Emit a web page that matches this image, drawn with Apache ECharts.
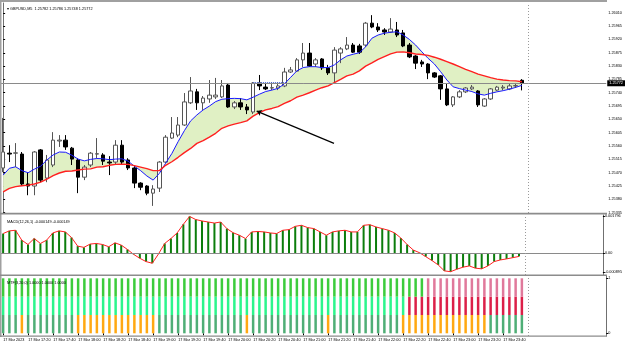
<!DOCTYPE html>
<html><head><meta charset="utf-8">
<script src="https://cdn.jsdelivr.net/npm/echarts@6/dist/echarts.min.js"></script>
<style>html,body{margin:0;padding:0;background:#fff}#c{width:625px;height:345px}</style>
</head><body><div id="c"></div>
<script>
const headerText = 'GBPUSD,M5  1.25782 1.25786 1.25748 1.25772';
const macdText = 'MACD(12,26,1) -0.000149 -0.000149';
const mtfText = 'MTF(3,20,0) 1.0000 1.0000 1.0000';
const timeLabels = ['17 Mar 2023','17 Mar 17:20','17 Mar 17:40','17 Mar 18:00','17 Mar 18:20','17 Mar 18:40','17 Mar 19:00','17 Mar 19:20','17 Mar 19:40','17 Mar 20:00','17 Mar 20:20','17 Mar 20:40','17 Mar 21:00','17 Mar 21:20','17 Mar 21:40','17 Mar 22:00','17 Mar 22:20','17 Mar 22:40','17 Mar 23:00','17 Mar 23:20','17 Mar 23:40'];
const opens = [1.25486,1.25536,1.25536,1.25533,1.25432,1.25425,1.25547,1.25452,1.25496,1.25577,1.25580,1.25553,1.25513,1.25455,1.25496,1.25533,1.25530,1.25506,1.25506,1.25563,1.25513,1.25486,1.25435,1.25425,1.25401,1.25418,1.25506,1.25587,1.25597,1.25631,1.25706,1.25743,1.25706,1.25719,1.25726,1.25726,1.25766,1.25692,1.25706,1.25692,1.25675,1.25773,1.25759,1.25756,1.25756,1.25763,1.25810,1.25813,1.25851,1.25874,1.25837,1.25854,1.25824,1.25807,1.25874,1.25888,1.25901,1.25898,1.25901,1.25975,1.25962,1.25952,1.25945,1.25952,1.25942,1.25901,1.25864,1.25844,1.25837,1.25807,1.25797,1.25753,1.25699,1.25726,1.25743,1.25753,1.25746,1.25695,1.25719,1.25749,1.25756,1.25753,1.25763,1.25782];
const highs = [1.25655,1.25563,1.25570,1.25540,1.25472,1.25543,1.25550,1.25530,1.25607,1.25597,1.25597,1.25557,1.25519,1.25496,1.25540,1.25587,1.25536,1.25526,1.25580,1.25580,1.25519,1.25496,1.25438,1.25428,1.25428,1.25509,1.25597,1.25658,1.25658,1.25739,1.25793,1.25753,1.25729,1.25783,1.25790,1.25783,1.25773,1.25712,1.25722,1.25702,1.25776,1.25800,1.25773,1.25776,1.25776,1.25824,1.25827,1.25857,1.25908,1.25908,1.25857,1.25857,1.25834,1.25894,1.25894,1.25928,1.25908,1.25905,1.25979,1.26002,1.25975,1.25958,1.25992,1.25979,1.25952,1.25908,1.25867,1.25851,1.25840,1.25810,1.25800,1.25773,1.25729,1.25749,1.25759,1.25766,1.25749,1.25722,1.25756,1.25763,1.25766,1.25770,1.25773,1.25786];
const lows = [1.25472,1.25506,1.25489,1.25425,1.25394,1.25394,1.25438,1.25438,1.25489,1.25557,1.25547,1.25496,1.25401,1.25445,1.25489,1.25519,1.25496,1.25462,1.25496,1.25496,1.25479,1.25418,1.25411,1.25394,1.25358,1.25405,1.25503,1.25584,1.25590,1.25628,1.25702,1.25682,1.25682,1.25706,1.25719,1.25722,1.25689,1.25685,1.25682,1.25668,1.25668,1.25749,1.25749,1.25749,1.25749,1.25759,1.25807,1.25810,1.25827,1.25827,1.25827,1.25817,1.25800,1.25773,1.25840,1.25884,1.25874,1.25871,1.25894,1.25958,1.25945,1.25935,1.25942,1.25928,1.25894,1.25857,1.25820,1.25827,1.25786,1.25790,1.25716,1.25695,1.25692,1.25722,1.25739,1.25749,1.25692,1.25692,1.25716,1.25746,1.25749,1.25749,1.25756,1.25748];
const closes = [1.25540,1.25533,1.25537,1.25432,1.25425,1.25540,1.25445,1.25513,1.25580,1.25580,1.25557,1.25516,1.25455,1.25489,1.25536,1.25534,1.25509,1.25503,1.25563,1.25506,1.25486,1.25435,1.25421,1.25401,1.25415,1.25506,1.25590,1.25604,1.25631,1.25709,1.25746,1.25706,1.25722,1.25732,1.25732,1.25763,1.25692,1.25706,1.25692,1.25682,1.25773,1.25763,1.25753,1.25757,1.25763,1.25810,1.25817,1.25851,1.25874,1.25830,1.25851,1.25824,1.25807,1.25884,1.25888,1.25901,1.25877,1.25877,1.25975,1.25962,1.25952,1.25945,1.25955,1.25935,1.25898,1.25861,1.25840,1.25837,1.25807,1.25793,1.25753,1.25699,1.25726,1.25743,1.25756,1.25759,1.25699,1.25719,1.25753,1.25759,1.25759,1.25763,1.25764,1.25772];
const fastMA = [1.25462,1.25485,1.25490,1.25477,1.25470,1.25482,1.25492,1.25513,1.25530,1.25540,1.25539,1.25529,1.25516,1.25510,1.25515,1.25518,1.25517,1.25514,1.25516,1.25517,1.25509,1.25492,1.25477,1.25459,1.25445,1.25468,1.25502,1.25535,1.25575,1.25612,1.25645,1.25665,1.25682,1.25695,1.25710,1.25718,1.25720,1.25721,1.25720,1.25716,1.25725,1.25735,1.25744,1.25749,1.25755,1.25770,1.25792,1.25814,1.25825,1.25828,1.25828,1.25825,1.25825,1.25834,1.25851,1.25864,1.25870,1.25875,1.25895,1.25924,1.25935,1.25941,1.25944,1.25946,1.25935,1.25920,1.25901,1.25878,1.25856,1.25837,1.25811,1.25783,1.25760,1.25754,1.25749,1.25744,1.25736,1.25732,1.25738,1.25743,1.25747,1.25752,1.25758,1.25765];
const slowMA = [1.25405,1.25417,1.25423,1.25426,1.25428,1.25432,1.25438,1.25448,1.25460,1.25469,1.25475,1.25476,1.25479,1.25482,1.25483,1.25489,1.25490,1.25495,1.25498,1.25499,1.25498,1.25494,1.25489,1.25484,1.25477,1.25477,1.25495,1.25507,1.25522,1.25538,1.25552,1.25569,1.25578,1.25590,1.25603,1.25620,1.25628,1.25634,1.25639,1.25645,1.25661,1.25673,1.25682,1.25687,1.25693,1.25704,1.25713,1.25725,1.25732,1.25740,1.25749,1.25757,1.25763,1.25774,1.25785,1.25797,1.25803,1.25814,1.25830,1.25841,1.25853,1.25862,1.25871,1.25877,1.25878,1.25875,1.25871,1.25869,1.25866,1.25860,1.25853,1.25845,1.25837,1.25828,1.25819,1.25811,1.25803,1.25797,1.25791,1.25786,1.25783,1.25781,1.25780,1.25777];
const macd = [0.00096,0.00109,0.00112,0.00064,0.00043,0.00072,0.00048,0.00064,0.00099,0.00109,0.00104,0.00077,0.00035,0.00029,0.00045,0.00048,0.00043,0.00032,0.00051,0.00040,0.00019,-0.00005,-0.00024,-0.00040,-0.00048,-0.00003,0.00048,0.00072,0.00099,0.00141,0.00179,0.00164,0.00157,0.00152,0.00147,0.00152,0.00120,0.00100,0.00088,0.00072,0.00104,0.00106,0.00104,0.00099,0.00096,0.00112,0.00115,0.00131,0.00136,0.00125,0.00120,0.00104,0.00088,0.00104,0.00109,0.00112,0.00104,0.00104,0.00136,0.00139,0.00128,0.00120,0.00112,0.00099,0.00074,0.00043,0.00016,0.00003,-0.00016,-0.00035,-0.00056,-0.00085,-0.00089,-0.00077,-0.00067,-0.00061,-0.00072,-0.00075,-0.00061,-0.00040,-0.00032,-0.00027,-0.00021,-0.000149];
const mtfTop = [1,1,1,1,1,1,1,1,1,1,1,1,1,1,1,1,1,1,1,1,1,1,1,1,1,1,1,1,1,1,1,1,1,1,1,1,1,1,1,1,1,1,1,1,1,1,1,1,1,1,1,1,1,1,1,1,1,1,1,1,1,1,1,1,1,1,1,1,0,0,0,0,0,0,0,0,0,0,0,0,0,0,0,0];
const mtfMid = [1,1,1,1,1,1,1,1,1,1,1,1,1,1,1,1,1,1,1,1,1,1,1,1,1,1,1,1,1,1,1,1,1,1,1,1,1,1,1,1,1,1,1,1,1,1,1,1,1,1,1,1,1,1,1,1,1,1,1,1,1,1,1,1,1,0,0,0,0,0,0,0,0,0,0,0,0,0,0,0,0,0,0,0];
const mtfBot = [1,1,1,0,1,1,1,1,1,1,1,1,0,0,0,0,0,0,0,0,0,0,0,0,0,1,1,1,1,1,1,1,1,1,1,1,1,1,1,0,1,1,1,1,1,1,1,1,1,1,1,1,0,1,1,1,1,1,1,1,1,1,1,1,0,0,0,0,0,0,0,0,0,0,0,0,0,0,1,1,1,1,1,1];
const priceTicks = [1.25335,1.25380,1.25425,1.25470,1.25515,1.25560,1.25605,1.25650,1.25695,1.25740,1.25785,1.25830,1.25875,1.25920,1.25965,1.26010];
const macdTicks = [-0.000895, 0, 0.001796];
const mtfTicks = [0, 1];
const bidPrice = 1.25772;
const arrowPts = [[40.57, 1.25678], [52.94, 1.25569]];
const levelPts = [[40, 1.25776], [45, 1.25776]];
const shiftMark = 84;

const chart = echarts.init(document.getElementById('c'));
const slots = 97;
const cats = Array.from({length: slots}, (_, i) => String(i));
const candles = opens.map((o, i) => [o, closes[i], lows[i], highs[i]]);
const band = fastMA.map((v, i) => +(v - slowMA[i]).toFixed(6));
const third = 1 / 3;
const F = '"Liberation Sans", Arial, sans-serif';
const fs = 3.8;
const txt = {fontSize: fs, color: '#000', fontFamily: F, fontWeight: 'normal'};
const segs = (arr, up, dn) => arr.map(s => ({value: third, itemStyle: {color: s ? up : dn}}));
const vline = {symbol: 'none', silent: true, precision: 6, label: {show: false}, lineStyle: {color: '#9a9a9a', type: [1, 2], width: 1}, data: [{xAxis: shiftMark}]};

const option = {
  animation: false,
  backgroundColor: '#fff',
  textStyle: {fontFamily: F},
  title: [
    {text: '\u25BE ' + headerText, left: 2, top: 2, textStyle: txt},
    {text: macdText, left: 2, top: 215, textStyle: txt},
    {text: mtfText, left: 2, top: 276, textStyle: txt}
  ],
  grid: [
    {left: 0, top: 3, width: 606.25, height: 210},
    {left: 0, top: 215, width: 606.25, height: 60},
    {left: 0, top: 276, width: 606.25, height: 60}
  ],
  xAxis: [
    {type: 'category', gridIndex: 0, data: cats, show: false},
    {type: 'category', gridIndex: 1, data: cats, show: false},
    {type: 'category', gridIndex: 2, data: cats, axisLine: {show: false},
      axisTick: {show: true, length: 2, interval: (i) => i % 4 === 0 && i / 4 < timeLabels.length, alignWithLabel: true, lineStyle: {color: '#000'}},
      axisLabel: {interval: (i) => i % 4 === 0 && i / 4 < timeLabels.length, align: 'left', margin: 2, fontSize: fs, color: '#000', fontFamily: F,
        formatter: (v, i) => timeLabels[i / 4] || ''}},
    {type: 'value', gridIndex: 0, min: -0.5, max: slots - 0.5, show: false}
  ],
  yAxis: [
    {type: 'value', gridIndex: 0, position: 'right', min: 1.25334, max: 1.26043, splitLine: {show: false},
      axisLine: {show: true, lineStyle: {color: '#707070'}},
      axisTick: {show: true, length: 2, customValues: priceTicks, lineStyle: {color: '#000'}},
      axisLabel: {customValues: priceTicks, fontSize: fs, color: '#000', margin: 2, fontFamily: F, formatter: v => v.toFixed(5)}},
    {type: 'value', gridIndex: 1, position: 'right', min: -0.00105, max: 0.00186, splitLine: {show: false},
      axisLine: {show: true, lineStyle: {color: '#707070'}},
      axisTick: {show: true, length: 2, customValues: macdTicks, lineStyle: {color: '#000'}},
      axisLabel: {customValues: macdTicks, fontSize: fs, color: '#000', margin: 2, fontFamily: F, formatter: v => v === 0 ? '0.00' : v.toFixed(6)}},
    {type: 'value', gridIndex: 2, position: 'right', min: -0.049, max: 1.042, splitLine: {show: false},
      axisLine: {show: true, lineStyle: {color: '#707070'}},
      axisTick: {show: true, length: 2, customValues: mtfTicks, lineStyle: {color: '#000'}},
      axisLabel: {customValues: mtfTicks, fontSize: fs, color: '#000', margin: 2, fontFamily: F, formatter: v => String(v)}}
  ],
  series: [
    {type: 'line', xAxisIndex: 0, yAxisIndex: 0, data: slowMA, stack: 'rib', stackStrategy: 'all', symbol: 'none', lineStyle: {width: 0}, silent: true, z: 1},
    {type: 'line', xAxisIndex: 0, yAxisIndex: 0, data: band, stack: 'rib', stackStrategy: 'all', symbol: 'none', lineStyle: {width: 0}, areaStyle: {color: '#e0f0c4', opacity: 1}, silent: true, z: 1},
    {type: 'candlestick', xAxisIndex: 0, yAxisIndex: 0, data: candles, barWidth: 4, z: 3,
      itemStyle: {color: '#ffffff', color0: '#000000', borderColor: '#555555', borderColor0: '#000000', borderWidth: 1}},
    {type: 'line', xAxisIndex: 0, yAxisIndex: 0, data: fastMA, symbol: 'none', lineStyle: {color: '#1a1aff', width: 1}, silent: true, z: 4,
      markLine: {symbol: 'none', silent: true, animation: false, precision: 6,
        data: [
          {yAxis: bidPrice, lineStyle: {color: '#8a8a8a', type: 'solid', width: 1},
            label: {show: true, position: 'end', distance: 1, formatter: bidPrice.toFixed(5), backgroundColor: '#000', color: '#fff', fontSize: fs, padding: [1, 2, 1, 2], fontFamily: F}},
          {xAxis: shiftMark, lineStyle: {color: '#9a9a9a', type: [1, 2], width: 1}, label: {show: false}}
        ]}},
    {type: 'line', xAxisIndex: 0, yAxisIndex: 0, data: slowMA, symbol: 'none', lineStyle: {color: '#ff2020', width: 1.4}, silent: true, z: 4},
    {type: 'line', xAxisIndex: 3, yAxisIndex: 0, data: arrowPts, symbol: 'none', lineStyle: {opacity: 0}, silent: true, z: 5,
      markLine: {silent: true, animation: false, precision: 6, label: {show: false},
        data: [
          [{coord: arrowPts[0], symbol: 'arrow', symbolSize: 5}, {coord: arrowPts[1], symbol: 'none'}],
          [{coord: levelPts[0], symbol: 'none', lineStyle: {color: '#4a6ad8', type: [1, 1], width: 1}}, {coord: levelPts[1], symbol: 'none'}]
        ],
        lineStyle: {color: '#000', width: 1.2, type: 'solid'}}},
    {type: 'bar', xAxisIndex: 1, yAxisIndex: 1, data: macd, barWidth: 2, itemStyle: {color: '#0b7d0b'}, silent: true,
      markLine: {symbol: 'none', silent: true, precision: 6, label: {show: false},
        data: [{yAxis: 0, lineStyle: {color: '#8a8a8a', type: 'solid', width: 1}}, {xAxis: shiftMark, lineStyle: {color: '#9a9a9a', type: [1, 2], width: 1}}]}},
    {type: 'line', xAxisIndex: 1, yAxisIndex: 1, data: macd, symbol: 'none', lineStyle: {color: '#ff2020', width: 1}, silent: true, z: 4},
    {type: 'bar', xAxisIndex: 2, yAxisIndex: 2, data: segs(mtfBot, '#4fae76', '#ffa812'), stack: 'mtf', barWidth: 2.5, silent: true,
      markLine: vline},
    {type: 'bar', xAxisIndex: 2, yAxisIndex: 2, data: segs(mtfMid, '#2cf58c', '#dc1f48'), stack: 'mtf', barWidth: 2.5, silent: true},
    {type: 'bar', xAxisIndex: 2, yAxisIndex: 2, data: segs(mtfTop, '#3ccc3c', '#e0799b'), stack: 'mtf', barWidth: 2.5, silent: true}
  ],
  graphic: [
    {type: 'rect', shape: {x: 0, y: 0, width: 607, height: 2}, style: {fill: '#a0a0a0'}, silent: true, z: 100},
    {type: 'rect', shape: {x: 0, y: 0, width: 1.5, height: 337}, style: {fill: '#a0a0a0'}, silent: true, z: 100},
    {type: 'rect', shape: {x: 0, y: 212.8, width: 607, height: 1.6}, style: {fill: '#8c8c8c'}, silent: true, z: 100},
    {type: 'rect', shape: {x: 0, y: 274.4, width: 607, height: 1.6}, style: {fill: '#8c8c8c'}, silent: true, z: 100},
    {type: 'rect', shape: {x: 0, y: 335.6, width: 607, height: 1.2}, style: {fill: '#8c8c8c'}, silent: true, z: 100}
  ]
};
chart.setOption(option);
</script>
</body></html>
